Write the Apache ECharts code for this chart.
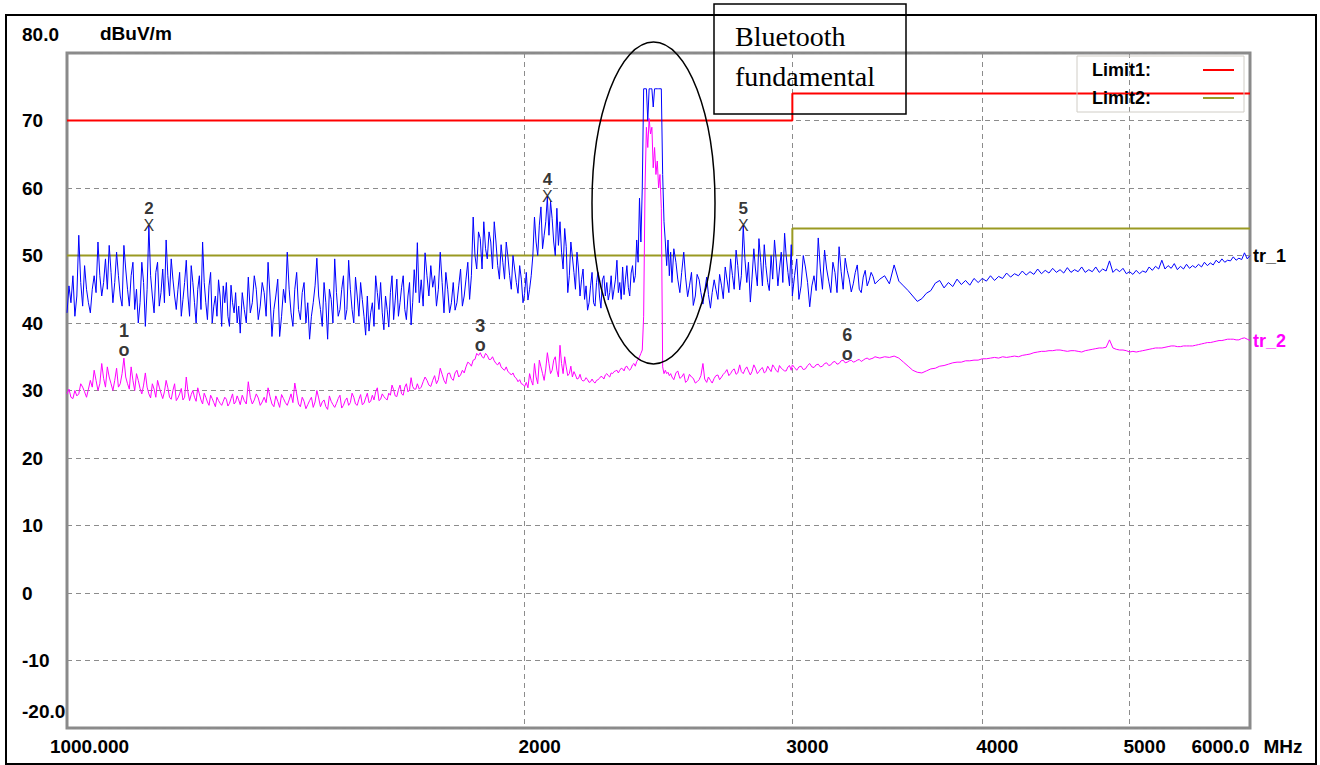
<!DOCTYPE html>
<html>
<head>
<meta charset="utf-8">
<script src="https://cdn.jsdelivr.net/npm/echarts@6.0.0/dist/echarts.min.js"></script>
<style>
html,body{margin:0;padding:0;background:#fff;overflow:hidden;}
#chart{width:1320px;height:765px;}
</style>
</head>
<body>
<div id="chart"></div>
<script>
// ---------------- DATA ----------------
// sweep frequencies (MHz)
const freqs = [
1000,1003,1006,1009,1012,1015,1018,1021,1024,1027,1030,1033,1036,1039,1042,1045,1048,1051,1054,1057,1060,1063,1066,1069,1072,1075,1078,1081,1084,1087,1090,1093,1096,1099,1102,1105,1108,1111,1114,1117,1120,1123,1126,1129,1132,1135,1138,1141,1144,1147,1150,1153,1156,1159,1162,1165,1168,1171,1174,1177,1180,1183,1186,1189,1192,1195,1198,1201,1204,1207,1210,1213,1216,1219,1222,1225,1228,1231,1234,1237,1240,1243,1246,1249,1252,1255,1258,1261,1264,1267,1270,1273,1276,1279,1282,1285,1288,1291,1294,1297,1300,
1304,1308,1312,1316,1320,1324,1328,1332,1336,1340,1344,1348,1352,1356,1360,1364,1368,1372,1376,1380,1384,1388,1392,1396,1400,1404,1408,1412,1416,1420,1424,1428,1432,1436,1440,1444,1448,1452,1456,1460,1464,1468,1472,1476,1480,1484,1488,1492,1496,1500,1504,1508,1512,1516,1520,1524,1528,1532,1536,1540,1544,1548,1552,1556,1560,1564,1568,1572,1576,1580,1584,1588,1592,1596,1600,1604,1608,1612,1616,1620,1624,1628,1632,1636,1640,1644,1648,1652,1656,1660,1664,1668,1672,1676,1680,1684,1688,1692,1696,1700,
1705,1710,1715,1720,1725,1730,1735,1740,1745,1750,1755,1760,1765,1770,1775,1780,1785,1790,1795,1800,1805,1810,1815,1820,1825,1830,1835,1840,1845,1850,1855,1860,1865,1870,1875,1880,1885,1890,1895,1900,1905,1910,1915,1920,1925,1930,1935,1940,1945,1950,1955,1960,1965,1970,1975,1980,1985,1990,1995,2000,
2005,2010,2015,2020,2025,2030,2035,2040,2045,2050,2055,2060,2065,2070,2075,2080,2085,2090,2095,2100,2105,2110,2115,2120,2125,2130,2135,2140,2145,2150,2155,2160,2165,2170,2175,2180,2185,2190,2195,2200,2205,2210,2215,2220,2225,2230,2235,2240,2245,2250,2255,2260,2265,2270,2275,2280,2285,2290,2295,2300,2305,2310,2315,2320,2325,2330,2335,2340,2345,2350,2355,2360,2365,2370,2375,2380,
2385,2390,2395,2400,2405,2410,2415,2420,2425,2430,2435,2440,2445,2450,2455,2460,2465,2470,2475,2480,2485,2490,2495,2500,
2507,2515,2522,2530,2537,2545,2552,2560,2567,2575,2582,2590,2597,2605,2612,2620,2627,2635,2642,2650,2657,2665,2672,2680,2687,2695,2702,2710,2717,2725,2732,2740,2747,2755,2762,2770,2777,2785,2792,2800,2807,2815,2822,2830,2837,2845,2852,2860,2867,2875,2882,2890,2897,2905,2912,2920,2927,2935,2942,2950,2957,2965,2972,2980,2987,2995,
3000,3010,3020,3030,3040,3050,3060,3070,3080,3090,3100,3110,3120,3130,3140,3150,3160,3170,3180,3190,3200,3210,3220,3230,3240,3250,3260,3270,3280,3290,3300,3310,3320,3330,3340,3350,3360,3370,3380,3390,3400,
3425,3450,3475,3500,3525,3550,3575,3600,3625,3650,3675,3700,3725,3750,3775,3800,3825,3850,3875,3900,3925,3950,3975,4000,
4025,4050,4075,4100,4125,4150,4175,4200,4225,4250,4275,4300,4325,4350,4375,4400,4425,4450,4475,4500,4525,4550,4575,4600,4625,4650,4675,4700,4725,4750,4775,4800,4825,4850,4875,4900,4925,4950,4975,5000,
5025,5050,5075,5100,5125,5150,5175,5200,5225,5250,5275,5300,5325,5350,5375,5400,5425,5450,5475,5500,5525,5550,5575,5600,5625,5650,5675,5700,5725,5750,5775,5800,5825,5850,5875,5900,5925,5950,5975,6000
];
// trace tr_1 (peak, dBuV/m)
const tr1 = [
41.5,45.5,43,47,41,44,53,46,42.5,48.5,45,43,41.5,45,47,44.5,52,47,44,46,49.5,45,51.5,47.5,43,46,50.5,47,44,42.5,51.5,48,45,42.5,47,49,42,45,40,43,49,46,39.5,45,54.4,47,44,41.5,47.5,49,42.5,44.5,48,43,52.3,47,44,49.5,46.5,44,42,45,47.5,41,43.5,46,49.3,44,41,48.5,46,43,40,45,47,42,52,46,43,40.5,45.5,47.5,40,42.5,44,41,46.4,44,39.5,45.5,43,46,41,39.5,45.6,43,41.5,44.5,40,42.5,38.5,
44.5,42,40,46.8,41.5,43,47,45,40.5,42.5,46,44.5,41,49,44,38,42,44,46.5,38,
41,45,43,50.5,45,41.5,39.5,45,47.5,42,40.5,44.5,46,40,43,37.6,41,43,45.5,49.6,
44,42,39.5,46,43,37.6,45,43.5,40,49.5,44.5,41,42,45,47,40.5,42,49.3,45,42,
40,46.8,44,41,46,43.5,41,38.2,44,38.8,41.5,43,39.5,47,44.5,42,46,41.5,39,44,
42,39.4,44.5,47,40.5,43.4,46.5,41,43,45.3,47,42,40.5,44,46,39.7,43,47.9,44.5,51.9,
43,46.4,42.5,50.4,47,44,48.5,45.3,47,42.5,45,50.5,46,41.5,47.5,45,41.5,43,46,41.9,43,45.5,48,42.5,44,46.5,49,43.5,47,55.7,
50,48,53.5,52.5,48,55,51,49.5,53.5,52,48,55,52,48.5,46.5,51.6,49,46.5,52,49.8,47,45,50,48,46,44.4,48.5,46.5,43,44.4,
47.5,43.4,45,47,50,55.7,52,50,54.5,57.2,51,53,55,58.7,53,58,55.5,52,50,57,51.5,55,50.5,48,54,51.3,44.5,47,52,49.8,47.5,45,50.5,48,44,46.4,48,43.5,
45.5,41.9,43,45.5,47.5,43,42.5,46,47.5,44,42.2,46.4,47,44,46,43.4,44.5,47,43.5,45,46.5,49.3,44.5,46,43.5,48.3,44.2,46.5,48.5,45.3,44,47.4,48.5,46,47,52.3,49,58.5,
52,60,74.7,74.7,74.7,70,74.7,74.7,74.7,72,74.7,74.7,74.7,74.7,74.7,74.7,62,55,52,48.5,52.3,47,50.5,46,
51,49,46.5,44.5,47.5,50.5,46.8,43.9,45.5,47.5,42.6,44,47.2,46.4,44.5,42.8,44.8,46.8,44.2,42.2,44.5,46.4,45,43.5,47.2,45.5,43.6,48.3,46.5,44.5,49.5,47,45,
50.8,48.5,44.9,47,54.4,49.5,46,49,43.1,46.5,51,48,45.5,52.5,49,45.5,51.6,48.5,46,44.8,50,46.5,52.3,49.5,45.5,48,50.5,46,53.3,50,47.5,45.5,51.6,
44,47,49.5,43.5,45.5,50,48.3,46,42.4,45.5,47,44.8,52.6,48,45,50.8,48,46.2,44.5,49,47.5,44.5,51.3,47.6,45,49.6,47.8,46.5,44.6,45.8,47.5,48.6,45,44.5,46.8,47.8,45.5,46.3,47.5,46.9,45.8,
46.5,47,45.8,48.6,46.2,45.5,44.8,44,43.2,43.6,44.4,44.8,45.9,46.3,45.2,46,45.4,46.5,45.7,46.3,45.6,46.6,46,46.6,
46.2,47,46.3,46.9,46.6,47.4,46.8,47.3,47,47.7,47.1,47.6,47.2,48,47.3,47.8,47.4,48.1,47.5,47.9,47.4,48.2,47.5,47.9,47.6,48.3,47.5,47.9,47.6,48.3,47.5,48,47.7,49.2,47.5,48,47.6,48.1,47.3,47.6,
47.2,47.8,47.3,47.7,47.5,48.3,47.8,48.4,48,49.3,48,48.5,48.1,48.8,47.9,48.4,48,48.7,48.1,48.5,48.2,48.7,48.3,49,48.5,48.9,48.6,49.3,48.9,49.5,49,49.3,49.2,49.8,49.3,49.6,49.4,50.4,49.5,50
];
// trace tr_2 (average, dBuV/m)
const tr2 = [
29.5,30.2,29,28.8,30,29.2,29.5,31,30.5,29.8,29,30.2,31.5,30.5,33,31.5,30,31,34,31.8,30.5,33.5,32,31,30,31.5,33.3,30.5,31,32.5,34.8,32,31,30.2,33.5,31.5,30,32.5,31.5,30.3,29.5,30.8,32.6,30.5,29.5,28.9,31,30.2,29,31.5,30.5,29.6,28.8,29.8,31.5,30.4,29,28.7,30,31,28.5,28.9,29.5,30.3,28.6,29,32,29.8,28.5,29.4,30,29,28.4,30.4,29.5,28.6,28,29.6,29,28.3,27.8,29.3,28.8,28.2,27.6,29,28.5,28.1,27.8,28.4,29,28.7,27.7,28.1,28.8,29.5,28,28.3,29.2,28.6,27.9,
29.3,28.5,28,31.3,29,28,28.6,29.5,28.9,27.8,28.3,29,28.2,30.4,29.1,28,27.6,29.2,28.4,27.5,
29.4,28.8,28.2,27.8,28.6,29.5,28.2,31.1,29.5,28,27.6,29,28.4,27.3,27.9,28.5,29,27.5,28.3,30,
28.9,27.6,28.3,28.6,27.6,27.2,29.2,28.4,27.9,27.5,28.1,28.8,29.3,27.4,27.8,28.5,28.9,27.8,28.2,29.6,
29,28,27.8,28.7,29.4,27.9,28.1,28.9,29.6,28.2,28.4,29.3,28.6,29.8,30.4,28.5,28.7,29.5,29.1,28.8,
28.6,29.6,29.3,30.8,30.1,29.2,29.1,30.1,30.8,29.5,29.3,30.5,31,29.8,30.1,31.9,30.6,30.2,30.2,31,
30.2,30.5,31.3,32,31.5,30.8,30.6,31.5,32.2,31,31.6,33.3,32.4,31.5,31,32.5,32.6,31.8,31.5,32.6,33,32,32.3,33,32.6,33.5,34.2,34,33.6,34.5,
34.6,35.5,35.2,35.6,35,34.8,35.5,35.2,34.6,34.6,35,34.4,34,33.8,34.2,33.5,33.2,33,33.5,32.8,32.6,32.3,32.6,32,31.8,31.3,31.6,31,30.9,30.6,
31.2,30.4,32.5,31.5,30.8,34,32,31,34.5,33.5,32.5,31.5,33.2,35.6,34,32.5,33,34.5,35,33,32,36.7,34,32.5,35,33.5,32.2,32.5,33.6,32,32.8,32.3,31.7,31.8,32.4,31.6,31.4,31.5,
31.9,31.6,31.2,31.3,31.7,31.3,31.1,31.5,31.6,31.8,32.1,32,31.7,32.3,32.5,32.2,32,32.6,32.5,32.8,32.9,33,32.6,33,33.3,33.2,32.9,33.5,33.6,33.2,33,33.3,33.8,34,33.6,34.3,34.6,35,
35.5,36,41,60,69,66,70.3,68,69,63,66,62,64,60,62,57,33.5,32.5,33,32.5,32.7,32.2,32.5,32,
31.6,32.6,32.9,31.8,32,32.5,31.2,31.5,32.4,32,31.8,31.1,31.3,31.6,32.2,34,31.7,31.2,32,31.5,31.1,31.8,32.2,32.3,31.6,32,32.4,32.7,33.1,32.2,32.5,33,33.2,
32.4,32.6,33.8,32.8,32.5,33.1,33.5,32.9,32.3,32.8,33.8,33.3,32.5,32.8,33.2,33.4,32.6,32.8,33.6,33.2,32.8,33.8,33.4,33,32.7,33.7,33.3,33.1,32.9,32.9,33.5,33.7,33,
33.8,33.4,33,33.5,33.6,33.1,33.2,33.7,34,33.5,33.4,33.8,33.9,33.5,33.6,34,34.1,33.7,33.8,34.2,34.3,33.9,34,34.4,34.5,34.1,34.2,34.4,34.5,34.2,34.3,34.5,34.6,34.3,34.5,34.7,34.8,34.6,34.7,34.8,35,
34.8,35,34.9,35.1,34.8,34.2,33.6,33,32.7,32.6,32.9,33.2,33.3,33.6,33.7,33.9,34.1,34.2,34.2,34.4,34.4,34.5,34.5,34.7,
34.7,34.8,34.9,34.8,35,34.9,35,35.1,35,35.2,35.3,35.4,35.6,35.7,35.8,35.8,35.9,35.9,36,36,35.9,35.8,35.9,35.9,35.8,35.7,35.9,36,36.1,36.2,36.3,36.3,36.4,37.5,36.3,36.1,36,36,35.9,35.7,
35.8,35.7,35.8,35.9,36,36.1,36.2,36.3,36.3,36.3,36.4,36.5,36.6,36.6,36.5,36.5,36.6,36.6,36.6,36.6,36.7,36.8,36.9,37,37.1,37.1,37.2,37.3,37.4,37.4,37.5,37.6,37.6,37.6,37.5,37.5,37.7,37.8,37.6,37.4
];
// limit lines [MHz, dBuV/m]
const limit1 = [[1000,70],[3000,70],[3000,74],[6000,74]];
const limit2 = [[1000,50],[3000,50],[3000,54],[6000,54]];
// markers
const peakMarkers = [{f:1132, v:54.4, label:'2'}, {f:2070, v:58.7, label:'4'}, {f:2785, v:54.4, label:'5'}];
const avgMarkers  = [{f:1090, v:34.8, label:'1'}, {f:1870, v:35.6, label:'3'}, {f:3260, v:34.2, label:'6'}];
// ticks
const xTicks = [1000, 2000, 3000, 4000, 5000, 6000];
const xTickLabels = ['1000.000', '2000', '3000', '4000', '5000', '6000.0'];
const xUnit = 'MHz';
const xGrid = [2000, 3000, 4000, 5000];
const yTicks = [-20, -10, 0, 10, 20, 30, 40, 50, 60, 70, 80];
const yTickLabels = ['-20.0', '-10', '0', '10', '20', '30', '40', '50', '60', '70', '80.0'];

// ---------------- CHART ----------------
const FONT = '"Liberation Sans", Arial, Helvetica, sans-serif';
const chart = echarts.init(document.getElementById('chart'), null, {renderer: 'svg', width: 1320, height: 765});

const tr1Data = freqs.map((f, i) => [f, tr1[i]]);
const tr2Data = freqs.map((f, i) => [f, tr2[i]]);

const boldTxt = {fontFamily: FONT, fontWeight: 'bold', fontSize: 19, color: '#000'};

const option = {
  animation: false,
  backgroundColor: '#fff',
  grid: {left: 67, top: 53, width: 1183, height: 675, show: true, borderColor: '#8a8a8a', borderWidth: 3,
         backgroundColor: 'transparent', containLabel: false, outerBoundsMode: 'none'},
  legend: {
    show: true, left: 1077, top: 56, orient: 'vertical', align: 'right',
    itemWidth: 31, itemHeight: 2, itemGap: 10, padding: [5, 10, 5, 15],
    borderColor: '#d0cdc6', borderWidth: 1, selectedMode: false,
    data: [{name: 'Limit1:', icon: 'rect'}, {name: 'Limit2:', icon: 'rect'}],
    textStyle: {fontFamily: FONT, fontWeight: 'bold', fontSize: 18, color: '#000', padding: [0, 47, 0, 0]}
  },
  xAxis: {
    type: 'log', logBase: 10, min: 1000, max: 6000,
    axisLine: {show: false, onZero: false},
    axisTick: {show: false, customValues: xGrid},
    minorTick: {show: false}, minorSplitLine: {show: false},
    splitLine: {show: true, lineStyle: {type: [5, 4], color: '#8c8c8c', width: 1}},
    axisLabel: {
      show: true, customValues: xTicks, margin: 9, align: 'center',
      fontFamily: FONT, fontWeight: 'bold', fontSize: 19, color: '#000',
      formatter: v => {
        const i = xTicks.indexOf(Math.round(v));
        if (i === xTicks.length - 1) return '{c|' + xTickLabels[i] + '}{u|' + xUnit + '}';
        const k = i === 0 ? 'a' : 'b';
        return '{' + k + '|' + xTickLabels[i] + '}';
      },
      rich: {
        a: Object.assign({padding: [0, 0, 0, 45]}, boldTxt),
        b: Object.assign({padding: [0, 0, 0, 30]}, boldTxt),
        c: Object.assign({}, boldTxt),
        u: Object.assign({padding: [0, 6, 0, 14]}, boldTxt)
      }
    }
  },
  yAxis: {
    type: 'value', min: -20, max: 80, interval: 10,
    axisLine: {show: false, onZero: false}, axisTick: {show: false},
    splitLine: {show: true, lineStyle: {type: [5, 4], color: '#8c8c8c', width: 1}},
    axisLabel: {
      show: true, align: 'left', margin: 45, fontFamily: FONT, fontWeight: 'bold', fontSize: 19, color: '#000',
      formatter: v => {
        const i = yTicks.indexOf(Math.round(v));
        const k = i === 0 ? 'lo' : (i === yTicks.length - 1 ? 'hi' : 'm');
        return '{' + k + '|' + yTickLabels[i] + '}';
      },
      rich: {
        hi: Object.assign({padding: [0, 0, 38, 0]}, boldTxt),
        lo: Object.assign({padding: [0, 0, 34, 0]}, boldTxt),
        m: Object.assign({}, boldTxt)
      }
    },
    name: 'dBuV/m', nameLocation: 'end', nameGap: 20, nameMoveOverlap: false,
    nameTextStyle: Object.assign({align: 'left', verticalAlign: 'middle', padding: [0, 0, 0, 33]}, boldTxt)
  },
  series: [
    {name: 'Limit1:', type: 'line', data: limit1, showSymbol: false, symbol: 'none', silent: true,
     lineStyle: {color: '#ff0000', width: 2}, itemStyle: {color: '#ff0000'}, z: 2},
    {name: 'Limit2:', type: 'line', data: limit2, showSymbol: false, symbol: 'none', silent: true,
     lineStyle: {color: '#9a9a22', width: 2}, itemStyle: {color: '#9a9a22'}, z: 2},
    {name: 'tr_1', type: 'line', data: tr1Data, showSymbol: false, symbol: 'none', silent: true,
     lineStyle: {color: '#0000ff', width: 1}, itemStyle: {color: '#0000ff'}, z: 3,
     endLabel: {show: true, formatter: 'tr_1', distance: 3, fontFamily: FONT, fontWeight: 'bold', fontSize: 18, color: '#000'}},
    {name: 'tr_2', type: 'line', data: tr2Data, showSymbol: false, symbol: 'none', silent: true,
     lineStyle: {color: '#ff00ff', width: 1}, itemStyle: {color: '#ff00ff'}, z: 4,
     endLabel: {show: true, formatter: 'tr_2', distance: 3, fontFamily: FONT, fontWeight: 'bold', fontSize: 18, color: '#ff00ff'}},
    {name: 'peakMarkers', type: 'scatter', silent: true, symbolSize: 1, itemStyle: {color: 'rgba(0,0,0,0)'}, z: 6,
     data: peakMarkers.map(m => ({value: [m.f, m.v], name: m.label})),
     label: {show: true, position: 'inside', offset: [0, -8.5], color: '#000',
       formatter: p => '{n|' + p.name + '}\n{x|X}',
       rich: {n: {fontFamily: FONT, fontWeight: 'bold', fontSize: 17, lineHeight: 17, color: '#000'},
              x: {fontFamily: FONT, fontSize: 16, lineHeight: 17, color: '#000'}}}},
    {name: 'avgMarkers', type: 'scatter', silent: true, symbolSize: 1, itemStyle: {color: 'rgba(0,0,0,0)'}, z: 6,
     data: avgMarkers.map(m => ({value: [m.f, m.v], name: m.label})),
     label: {show: true, position: 'inside', offset: [0, -17.5], color: '#000',
       formatter: p => '{n|' + p.name + '}\n{o|o}',
       rich: {n: {fontFamily: FONT, fontWeight: 'bold', fontSize: 18, lineHeight: 19, color: '#000'},
              o: {fontFamily: FONT, fontWeight: 'bold', fontSize: 18, lineHeight: 19, color: '#000'}}}}
  ],
  graphic: [
    {type: 'rect', silent: true, z: 100, shape: {x: 6, y: 15, width: 1310, height: 749},
     style: {fill: 'none', stroke: '#000', lineWidth: 2}},
    {type: 'ellipse', silent: true, z: 100, shape: {cx: 653.5, cy: 203, rx: 61.5, ry: 161},
     style: {fill: 'none', stroke: '#000', lineWidth: 1.5}},
    {type: 'rect', silent: true, z: 100, shape: {x: 714, y: 4, width: 192, height: 110},
     style: {fill: 'none', stroke: '#000', lineWidth: 1.5}},
    {type: 'text', silent: true, z: 100, x: 735, y: 36.5,
     style: {text: 'Bluetooth', fontFamily: '"Liberation Serif", "Times New Roman", serif', fontSize: 28, fill: '#000', verticalAlign: 'middle', align: 'left'}},
    {type: 'text', silent: true, z: 100, x: 735, y: 76.5,
     style: {text: 'fundamental', fontFamily: '"Liberation Serif", "Times New Roman", serif', fontSize: 28, fill: '#000', verticalAlign: 'middle', align: 'left'}}
  ]
};
chart.setOption(option);
</script>
</body>
</html>
